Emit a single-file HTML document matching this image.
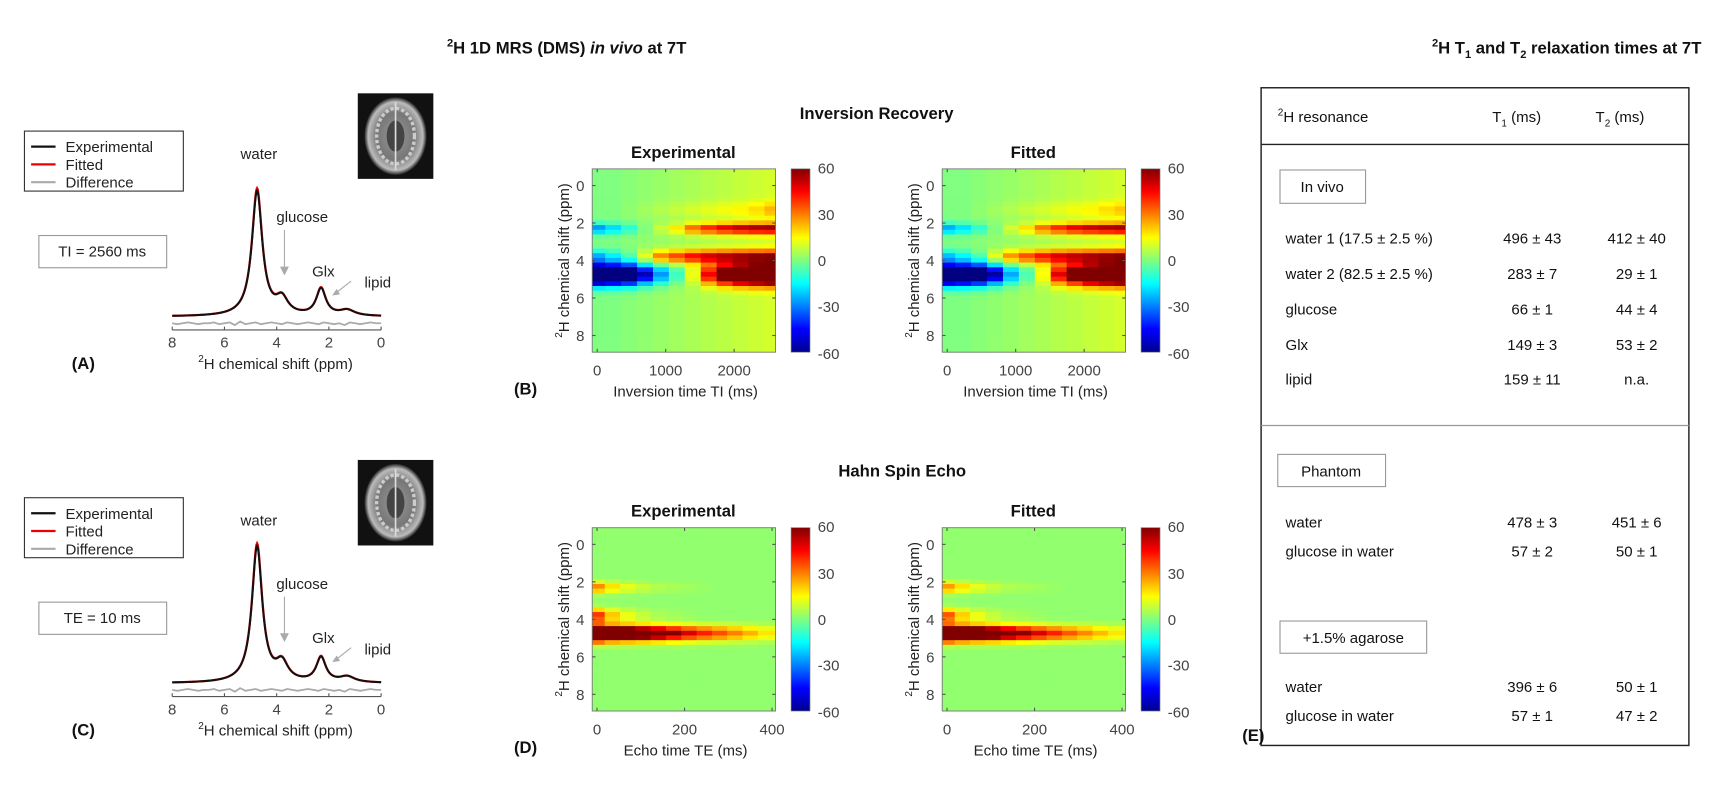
<!DOCTYPE html>
<html><head><meta charset="utf-8">
<style>
html,body{margin:0;padding:0;background:#fff;}
svg{display:block;font-family:"Liberation Sans",Arial,sans-serif;}
.t{font-size:13.5px;fill:#222;}
.tick{font-size:13.5px;fill:#444;}
.b{font-weight:bold;font-size:15px;fill:#111;}
.tb{font-size:13.5px;fill:#111;}
</style></head>
<body>
<svg id="fig" width="1734" height="794" viewBox="0 0 1560.6 714.7" preserveAspectRatio="none" xmlns="http://www.w3.org/2000/svg">
<defs>
<linearGradient id="jet" x1="0" y1="1" x2="0" y2="0">
<stop offset="0" stop-color="#00008f"/><stop offset="0.125" stop-color="#0000ff"/><stop offset="0.375" stop-color="#00ffff"/><stop offset="0.625" stop-color="#ffff00"/><stop offset="0.875" stop-color="#ff0000"/><stop offset="1" stop-color="#800000"/>
</linearGradient>
<radialGradient id="brain" cx="0.5" cy="0.5" r="0.5"><stop offset="0" stop-color="#999"/><stop offset="0.6" stop-color="#777"/><stop offset="0.88" stop-color="#bbb"/><stop offset="1" stop-color="#222"/></radialGradient>
</defs>

<text x="510" y="48" text-anchor="middle" class="b"><tspan font-size="10" dy="-6">2</tspan><tspan dy="6">H 1D MRS (DMS) </tspan><tspan font-style="italic">in vivo</tspan> at 7T</text>
<text x="1410" y="48" text-anchor="middle" class="b"><tspan font-size="10" dy="-6">2</tspan><tspan dy="6">H T</tspan><tspan font-size="10" dy="4">1</tspan><tspan dy="-4"> and T</tspan><tspan font-size="10" dy="4">2</tspan><tspan dy="-4"> relaxation times at 7T</tspan></text>
<text x="789" y="107" text-anchor="middle" class="b">Inversion Recovery</text>
<text x="812" y="429" text-anchor="middle" class="b">Hahn Spin Echo</text>

<g id="spectra"></g>
<g id="heatmaps"></g>

<g>
<rect x="1135" y="79" width="385" height="592" fill="none" stroke="#222" stroke-width="1.3"/>
<line x1="1135" y1="130" x2="1520" y2="130" stroke="#222" stroke-width="1.3"/>
<line x1="1135" y1="383" x2="1520" y2="383" stroke="#999" stroke-width="1.2"/>
<text x="1150" y="110" class="tb"><tspan font-size="9" dy="-6">2</tspan><tspan dy="6">H resonance</tspan></text>
<text x="1343" y="110" class="tb">T<tspan font-size="9" dy="4">1</tspan><tspan dy="-4"> (ms)</tspan></text>
<text x="1436" y="110" class="tb">T<tspan font-size="9" dy="4">2</tspan><tspan dy="-4"> (ms)</tspan></text>
<rect x="1152" y="153" width="77" height="30" fill="#fff" stroke="#999"/>
<text x="1190" y="173" text-anchor="middle" class="tb">In vivo</text>
<text x="1157" y="219" class="tb">water 1  (17.5 ± 2.5 %)</text><text x="1379" y="219" text-anchor="middle" class="tb">496 ± 43</text><text x="1473" y="219" text-anchor="middle" class="tb">412 ± 40</text>
<text x="1157" y="251" class="tb">water 2  (82.5 ± 2.5 %)</text><text x="1379" y="251" text-anchor="middle" class="tb">283 ± 7</text><text x="1473" y="251" text-anchor="middle" class="tb">29 ± 1</text>
<text x="1157" y="283" class="tb">glucose</text><text x="1379" y="283" text-anchor="middle" class="tb">66 ± 1</text><text x="1473" y="283" text-anchor="middle" class="tb">44 ± 4</text>
<text x="1157" y="315" class="tb">Glx</text><text x="1379" y="315" text-anchor="middle" class="tb">149 ± 3</text><text x="1473" y="315" text-anchor="middle" class="tb">53 ± 2</text>
<text x="1157" y="346" class="tb">lipid</text><text x="1379" y="346" text-anchor="middle" class="tb">159 ± 11</text><text x="1473" y="346" text-anchor="middle" class="tb">n.a.</text>
<rect x="1150" y="409" width="97" height="29" fill="#fff" stroke="#999"/>
<text x="1198" y="429" text-anchor="middle" class="tb">Phantom</text>
<text x="1157" y="475" class="tb">water</text><text x="1379" y="475" text-anchor="middle" class="tb">478 ± 3</text><text x="1473" y="475" text-anchor="middle" class="tb">451 ± 6</text>
<text x="1157" y="501" class="tb">glucose in water</text><text x="1379" y="501" text-anchor="middle" class="tb">57 ± 2</text><text x="1473" y="501" text-anchor="middle" class="tb">50 ± 1</text>
<rect x="1152" y="559" width="132" height="29" fill="#fff" stroke="#999"/>
<text x="1218" y="579" text-anchor="middle" class="tb">+1.5% agarose</text>
<text x="1157" y="623" class="tb">water</text><text x="1379" y="623" text-anchor="middle" class="tb">396 ± 6</text><text x="1473" y="623" text-anchor="middle" class="tb">50 ± 1</text>
<text x="1157" y="649" class="tb">glucose in water</text><text x="1379" y="649" text-anchor="middle" class="tb">57 ± 1</text><text x="1473" y="649" text-anchor="middle" class="tb">47 ± 2</text>
</g>
<text x="1128" y="667" text-anchor="middle" class="b" font-size="18">(E)</text>
</svg>

<script>
// ===== Spectrum data =====
const peakCenters = [4.75, 3.8, 2.3, 1.3];
const peakHeightsA = [112, 14, 24, 5];
const peakHeightsC = [122, 16, 22, 5];
const peakWidths = [0.24, 0.28, 0.22, 0.35];
const diffWiggle = [0,1,0,-1,0,1,0,0,-1,1,0,-1,2,-2,1,0,-1,1,0,-1,0,1,-1,0,1,0,-1,0,1,-1,0,1,0,2,-1,0,1,0,-1,0,0];
const spectrumTicks = [8,6,4,2,0];

// ===== IR heatmap data =====
const irTimes = [0,233,465,698,930,1163,1396,1628,1861,2094,2327,2560];
const irWaterExp = [-110,-100,-90,-55,-30,-12,8,40,70,90,100,105];
const irGlucExp  = [-22,-14,-4,12,28,34,40,44,46,47,48,48];
const irGlxExp   = [-28,-20,-12,-2,6,14,28,36,42,46,48,48];
const irLipExp   = [0,0,1,2,3,4,5,6,7,8,10,14];
const irWaterFit = [-105,-98,-88,-58,-28,-10,10,42,68,88,98,104];
const irGlucFit  = [-20,-13,-4,12,26,33,39,43,45,46,47,48];
const irGlxFit   = [-26,-19,-11,-2,7,15,28,36,42,45,47,48];
const irLipFit   = [0,0,1,2,3,4,5,6,7,8,10,12];
const irOffset   = [0,0,1,2,3,4,5,6,7,8,9,10];
const irTicks = [0,1000,2000];

// ===== Hahn heatmap data =====
const teTimes = [0,35,70,105,140,175,210,245,280,315,350,385];
const seWaterExp = [130,100,90,80,70,58,48,40,34,28,22,16];
const seGlucExp  = [38,20,11,6,3,2,1,0,0,0,0,0];
const seGlxExp   = [28,17,11,7,4,3,2,1,0,0,0,0];
const seWaterFit = [125,102,90,80,68,57,48,40,33,27,21,16];
const seGlucFit  = [34,19,11,6,3,2,1,0,0,0,0,0];
const seGlxFit   = [26,17,11,7,4,3,2,1,0,0,0,0];
const seOffset   = [2,2,2,2,2,2,2,2,2,2,2,2];
const seTicks = [0,200,400];

const cbTicks = [60,30,0,-30,-60];
const ppmTicks = [0,2,4,6,8];

const NS = 'http://www.w3.org/2000/svg';
function mk(tag, attrs, parent){ const e=document.createElementNS(NS,tag); for(const k in attrs) e.setAttribute(k,attrs[k]); parent.appendChild(e); return e; }
function txt(s, attrs, parent){ const e=mk('text',attrs,parent); e.textContent=s; return e; }
function lor(x,c,w){ return w*w/((x-c)*(x-c)+w*w); }
function gau(x,c,s){ return Math.exp(-0.5*(x-c)*(x-c)/(s*s)); }

function jet(v){
  let t=(v+60)/120; t=Math.max(0,Math.min(1,t));
  const f=(a)=>Math.max(0,Math.min(1,a));
  const r=f(Math.min(4*t-1.5, -4*t+4.5));
  const g=f(Math.min(4*t-0.5, -4*t+3.5));
  const b=f(Math.min(4*t+0.5, -4*t+2.5));
  return `rgb(${Math.round(r*255)},${Math.round(g*255)},${Math.round(b*255)})`;
}

// ===== Spectra =====
const specRoot=document.getElementById('spectra');
function spectrum(dy, heights, label, boxText, tag){
  const g=mk('g',{},specRoot);
  
  
  const x0=155, x1=343, base=285+dy;
  const xs=p=>x0+(8-p)/8*(x1-x0);
  const val=(p,hh)=>{let s=0; for(let k=0;k<peakCenters.length;k++) s+=hh[k]*lor(p,peakCenters[k],peakWidths[k]); return s;};
  const ax=mk('line',{x1:x0,y1:297+dy,x2:x1,y2:297+dy,stroke:'#555','stroke-width':1},g);
  
  
  spectrumTicks.forEach(t=>{
    mk('line',{x1:xs(t),y1:297+dy,x2:xs(t),y2:294+dy,stroke:'#555'},g);
    const tl=txt(String(t),{x:xs(t),y:313+dy,'text-anchor':'middle',class:'tick'},g);
    
    
  });
  const xl=txt('',{x:248,y:332+dy,'text-anchor':'middle',class:'t'},g);
  xl.innerHTML='<tspan font-size="9" dy="-6">2</tspan><tspan dy="6">H chemical shift (ppm)</tspan>';
  
  
  let dd='';
  diffWiggle.forEach((w,i)=>{const p=8-i*8/(diffWiggle.length-1); dd+=(i?'L':'M')+xs(p).toFixed(1)+','+(base+6+w*0.8).toFixed(1);});
  const dl=mk('path',{d:dd,fill:'none',stroke:'#aaa','stroke-width':1.6},g);
  
  
  let fd='', ed='';
  for(let i=0;i<=320;i++){const p=8-i*8/320; const v=val(p,heights);
    fd+=(i?'L':'M')+xs(p).toFixed(2)+','+(base-v*1.02).toFixed(2);
    ed+=(i?'L':'M')+xs(p).toFixed(2)+','+(base-v).toFixed(2);}
  const fl=mk('path',{d:fd,fill:'none',stroke:'#e00','stroke-width':2},g);
  
  
  const el=mk('path',{d:ed,fill:'none',stroke:'#111','stroke-width':1.8},g);
  
  
  const lw=txt('water',{x:233,y:143+dy,'text-anchor':'middle',class:'t'},g);
  
  
  const lg=txt('glucose',{x:272,y:200+dy,'text-anchor':'middle',class:'t'},g);
  
  
  mk('line',{x1:256,y1:207+dy,x2:256,y2:243+dy,stroke:'#aaa','stroke-width':1},g);
  mk('path',{d:`M252,${240+dy} L256,${248+dy} L260,${240+dy} Z`,fill:'#aaa'},g);
  const lx=txt('Glx',{x:291,y:249+dy,'text-anchor':'middle',class:'t'},g);
  
  
  const ll=txt('lipid',{x:340,y:259+dy,'text-anchor':'middle',class:'t'},g);
  
  
  mk('line',{x1:316,y1:253+dy,x2:302,y2:264+dy,stroke:'#aaa','stroke-width':1},g);
  mk('path',{d:`M299,${266+dy} L306,${265+dy} L303,${260+dy} Z`,fill:'#aaa'},g);
  const lg2=mk('g',{},g);
  
  
  mk('rect',{x:22,y:118+dy,width:143,height:54,fill:'#fff',stroke:'#333','stroke-width':1},lg2);
  [['Experimental','#111'],['Fitted','#e00'],['Difference','#aaa']].forEach((r,i)=>{
    const yy=136+dy+i*16;
    mk('line',{x1:28,y1:yy-4,x2:50,y2:yy-4,stroke:r[1],'stroke-width':2},lg2);
    const et=txt(r[0],{x:59,y:yy+1,class:'t'},lg2);
    
    
  });
  mk('rect',{x:35,y:212+dy,width:115,height:29,fill:'#fff',stroke:'#999'},g);
  const bt=txt(boxText,{x:92,y:231+dy,'text-anchor':'middle',class:'t'},g);
  
  
  const mri=mk('g',{},g);
  
  
  mk('rect',{x:322,y:84+dy,width:68,height:77,fill:'#111'},mri);
  mk('ellipse',{cx:356,cy:122.5+dy,rx:28,ry:35,fill:'url(#brain)'},mri);
  mk('ellipse',{cx:356,cy:122.5+dy,rx:17,ry:25,fill:'none',stroke:'#ccc','stroke-width':3,'stroke-dasharray':'3 2'},mri);
  mk('ellipse',{cx:356,cy:122.5+dy,rx:8,ry:14,fill:'#444'},mri);
  mk('line',{x1:356,y1:92+dy,x2:356,y2:153+dy,stroke:'#ddd','stroke-width':1.5},mri);
  const pl=txt(label,{x:75,y:332+dy,'text-anchor':'middle',class:'b','font-size':18},g);
  
  
}
spectrum(0, peakHeightsA, '(A)', 'TI = 2560 ms', 'a');
spectrum(330, peakHeightsC, '(C)', 'TE = 10 ms', 'c');

// ===== Heatmaps =====
const hmRoot=document.getElementById('heatmaps');
function heatmap(px, py, title, times, water, gluc, glx, lip, offset, tmin, tmax, ticks, xtitle, panelLabel, tag, wW){
  const g=mk('g',{},hmRoot);
  
  
  const W=165, H=165, pmin=-0.89, pmax=8.89;
  const xs=t=>px+(t-tmin)/(tmax-tmin)*W;
  const ys=p=>py+(p-pmin)/(pmax-pmin)*H;
  const step=0.25;
  for(let c=0;c<times.length;c++){
    const xa = c===0? px : (xs(times[c-1])+xs(times[c]))/2;
    const xb = c===times.length-1? px+W : (xs(times[c])+xs(times[c+1]))/2;
    for(let p=pmin;p<pmax-0.01;p+=step){
      const pc=p+step/2;
      const v=offset[c]+water[c]*gau(pc,4.75,wW)+gluc[c]*gau(pc,3.8,0.25)+glx[c]*gau(pc,2.3,0.2)+(lip?lip[c]*gau(pc,1.3,0.3):0);
      const pe=Math.min(p+step,pmax);
      const cell=mk('rect',{x:xa.toFixed(2),y:ys(p).toFixed(2),width:(xb-xa+0.4).toFixed(2),height:(ys(pe)-ys(p)+0.4).toFixed(2),fill:jet(v)},g);
      
      
    }
  }
  mk('rect',{x:px,y:py,width:W,height:H,fill:'none',stroke:'#777','stroke-width':0.8},g);
  ticks.forEach(t=>{
    mk('line',{x1:xs(t),y1:py+H,x2:xs(t),y2:py+H-3,stroke:'#555'},g);
    mk('line',{x1:xs(t),y1:py,x2:xs(t),y2:py+3,stroke:'#555'},g);
    const tl=txt(String(t),{x:xs(t),y:py+H+21,'text-anchor':'middle',class:'tick'},g);
    
    
  });
  ppmTicks.forEach(p=>{
    mk('line',{x1:px,y1:ys(p),x2:px+3,y2:ys(p),stroke:'#555'},g);
    mk('line',{x1:px+W,y1:ys(p),x2:px+W-3,y2:ys(p),stroke:'#555'},g);
    const tl=txt(String(p),{x:px-7,y:ys(p)+5,'text-anchor':'end',class:'tick'},g);
    
    
  });
  const yt=txt('',{x:0,y:0,'text-anchor':'middle',class:'t',transform:`translate(${px-21},${py+H/2}) rotate(-90)`},g);
  yt.innerHTML='<tspan font-size="9" dy="-6">2</tspan><tspan dy="6">H chemical shift (ppm)</tspan>';
  
  
  const xt=txt(xtitle,{x:px+84,y:py+H+40,'text-anchor':'middle',class:'t'},g);
  
  
  const tt=txt(title,{x:px+82,y:py-10,'text-anchor':'middle',class:'b','font-size':14},g);
  
  
  const cb=mk('rect',{x:px+179,y:py,width:17,height:H,fill:'url(#jet)',stroke:'#777','stroke-width':0.6},g);
  
  
  cbTicks.forEach(v=>{
    const yy=py+(60-v)/120*H;
    const tl=txt(String(v),{x:px+203,y:yy+(v===60?4:v===-60?6:5),class:'tick','font-size':13},g);
    
    
  });
  if(panelLabel){
    const pl=txt(panelLabel,{x:px-60,y:py+H+38,'text-anchor':'middle',class:'b','font-size':18},g);
    
    
  }
}
heatmap(533,152,'Experimental',irTimes,irWaterExp,irGlucExp,irGlxExp,irLipExp,irOffset,-73,2605,irTicks,'Inversion time TI (ms)','(B)','ir-experimental',0.38);
heatmap(848,152,'Fitted',irTimes,irWaterFit,irGlucFit,irGlxFit,irLipFit,irOffset,-73,2605,irTicks,'Inversion time TI (ms)',null,'ir-fitted',0.38);
heatmap(533,475,'Experimental',teTimes,seWaterExp,seGlucExp,seGlxExp,null,seOffset,-11,408,seTicks,'Echo time TE (ms)','(D)','se-experimental',0.28);
heatmap(848,475,'Fitted',teTimes,seWaterFit,seGlucFit,seGlxFit,null,seOffset,-11,408,seTicks,'Echo time TE (ms)',null,'se-fitted',0.28);
</script>
</body></html>
